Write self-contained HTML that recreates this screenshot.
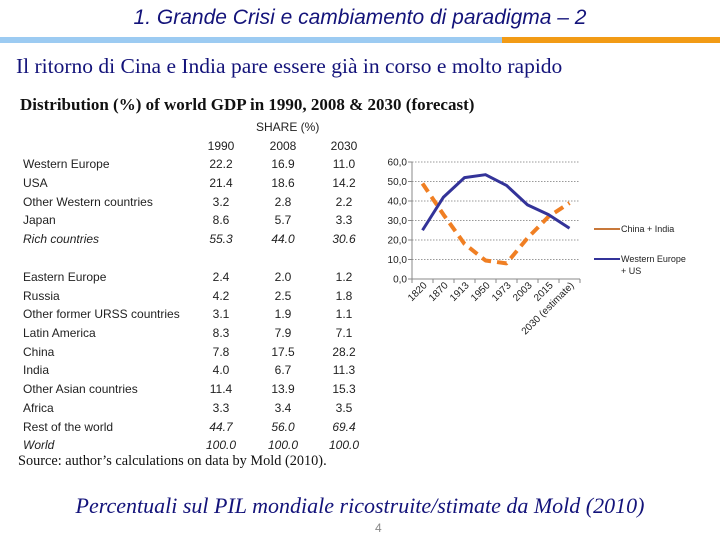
<!DOCTYPE html>
<html><head><meta charset="utf-8"><style>
body{margin:0;width:720px;height:540px;background:#fff;position:relative;overflow:hidden;font-family:"Liberation Sans",Arial,sans-serif}
.a{position:absolute;white-space:nowrap}
.t{font-size:12px;color:#222}
.c{text-align:center;width:50px}
i{font-style:italic}
</style></head><body>
<div class="a" style="left:0;width:720px;top:6px;text-align:center;font-size:21px;font-style:italic;color:#13137a">1. Grande Crisi e cambiamento di paradigma – 2</div>
<div class="a" style="left:0;top:37px;width:502px;height:6px;background:#9ccbf2"></div>
<div class="a" style="left:502px;top:37px;width:218px;height:6px;background:#f29b16"></div>
<div class="a" style="left:16px;top:54px;font-family:'Liberation Serif',serif;font-size:21.5px;color:#13137a">Il ritorno di Cina e India pare essere già in corso e molto rapido</div>
<div class="a" style="left:20px;top:95px;font-family:'Liberation Serif',serif;font-size:17px;font-weight:bold;color:#111">Distribution (%) of world GDP in 1990, 2008 &amp; 2030 (forecast)</div>
<div class="a t" style="left:256px;top:120px">SHARE (%)</div>
<div id="tbl"></div>
<div class="a" style="left:18px;top:453px;font-family:'Liberation Serif',serif;font-size:14.3px;color:#111">Source: author’s calculations on data by Mold  (2010).</div>
<div class="a" style="left:0;width:720px;top:493px;text-align:center;font-family:'Liberation Serif',serif;font-size:22px;font-style:italic;color:#13137a">Percentuali sul PIL mondiale ricostruite/stimate da Mold (2010)</div>
<div class="a" style="left:375px;top:521px;font-size:12px;color:#888">4</div>
<svg class="a" style="left:0;top:0" width="720" height="540" id="chart"></svg>
<script>
const rows=[["Western Europe","22.2","16.9","11.0",0],["USA","21.4","18.6","14.2",0],["Other Western countries","3.2","2.8","2.2",0],["Japan","8.6","5.7","3.3",0],["Rich countries","55.3","44.0","30.6",1],
["Eastern Europe","2.4","2.0","1.2",0],["Russia","4.2","2.5","1.8",0],["Other former URSS countries","3.1","1.9","1.1",0],["Latin America","8.3","7.9","7.1",0],["China","7.8","17.5","28.2",0],["India","4.0","6.7","11.3",0],["Other Asian countries","11.4","13.9","15.3",0],["Africa","3.3","3.4","3.5",0],["Rest of the world","44.7","56.0","69.4",2],["World","100.0","100.0","100.0",1]];
const tbl=document.getElementById('tbl');
let h='';
const ys=[157,176,195,213,232,270,289,307,326,345,363,382,401,420,438];
[["1990",196],["2008",258],["2030",319]].forEach(c=>{h+=`<div class="a t c" style="left:${c[1]}px;top:139px">${c[0]}</div>`});
rows.forEach((r,i)=>{const it=r[4]==1;const iv=r[4]>=1;
h+=`<div class="a t" style="left:23px;top:${ys[i]}px">${it?'<i>'+r[0]+'</i>':r[0]}</div>`;
[196,258,319].forEach((x,j)=>{h+=`<div class="a t c" style="left:${x}px;top:${ys[i]}px">${iv?'<i>'+r[j+1]+'</i>':r[j+1]}</div>`});});
tbl.innerHTML=h;

const categories=["1820","1870","1913","1950","1973","2003","2015","2030 (estimate)"];
const chinaIndia=[49,33,18,9.5,8,21,32,39];
const westUS=[25,42,52,53.5,48,38,33,26];
const yTicks=[0,10,20,30,40,50,60];
const yTickLabels=["0,0","10,0","20,0","30,0","40,0","50,0","60,0"];
const NS='http://www.w3.org/2000/svg';
const svg=document.getElementById('chart');
const X0=412,X1=580,Y0=279,Y1=162;
const bw=(X1-X0)/categories.length;
const xs=i=>X0+bw*(i+0.5);
const yv=v=>Y0-(v/60)*(Y0-Y1);
function mk(t,a,n){const e=document.createElementNS(NS,t);for(const k in a)e.setAttribute(k,a[k]);


svg.appendChild(e);return e;}
yTicks.forEach((v,i)=>{
 if(v>0)mk('line',{x1:X0,x2:X1,y1:yv(v),y2:yv(v),stroke:'#999','stroke-dasharray':'1.5,1.5'},'gridline');
 mk('line',{x1:X0-4,x2:X0,y1:yv(v),y2:yv(v),stroke:'#888'},'y-tick');
 const t=mk('text',{x:X0-5,y:yv(v)+3.5,'text-anchor':'end','font-size':'10','fill':'#222','font-family':'Liberation Sans, sans-serif'},'y-tick-label');t.textContent=yTickLabels[i];});
mk('line',{x1:X0,x2:X0,y1:Y1,y2:Y0,stroke:'#888'},'y-axis');
mk('line',{x1:X0,x2:X1,y1:Y0,y2:Y0,stroke:'#888'},'x-axis');
categories.forEach((c,i)=>{
 mk('line',{x1:X0+bw*i,x2:X0+bw*i,y1:Y0,y2:Y0+4,stroke:'#888'},'x-tick');
 const t=mk('text',{x:xs(i)+5,y:Y0+7,'text-anchor':'end','font-size':'10','fill':'#222','font-family':'Liberation Sans, sans-serif',transform:`rotate(-45 ${xs(i)+5} ${Y0+7})`},'x-tick-label');t.textContent=c;});
mk('line',{x1:X1,x2:X1,y1:Y0,y2:Y0+4,stroke:'#888'},'x-tick');
mk('path',{d:chinaIndia.map((v,i)=>(i?'L':'M')+xs(i)+' '+yv(v)).join(''),fill:'none',stroke:'#f07f23','stroke-width':4,'stroke-dasharray':'10,6','stroke-linejoin':'round'},'line-china-india');
mk('path',{d:westUS.map((v,i)=>(i?'L':'M')+xs(i)+' '+yv(v)).join(''),fill:'none',stroke:'#333399','stroke-width':3,'stroke-linejoin':'round'},'line-western-europe-us');
mk('line',{x1:594,x2:620,y1:229,y2:229,stroke:'#c8783a','stroke-width':2},'legend-swatch-china-india');
let t=mk('text',{x:621,y:232,'font-size':'9','fill':'#222','font-family':'Liberation Sans, sans-serif'},'legend-label-china-india');t.textContent='China + India';
mk('line',{x1:594,x2:620,y1:259,y2:259,stroke:'#333399','stroke-width':2},'legend-swatch-western-europe-us');
t=mk('text',{x:621,y:262,'font-size':'9','fill':'#222','font-family':'Liberation Sans, sans-serif'},'legend-label-western-europe-us');t.textContent='Western Europe';
t=mk('text',{x:621,y:274,'font-size':'9','fill':'#222','font-family':'Liberation Sans, sans-serif'},'legend-label-western-europe-us-2');t.textContent='+ US';
</script>
</body></html>
